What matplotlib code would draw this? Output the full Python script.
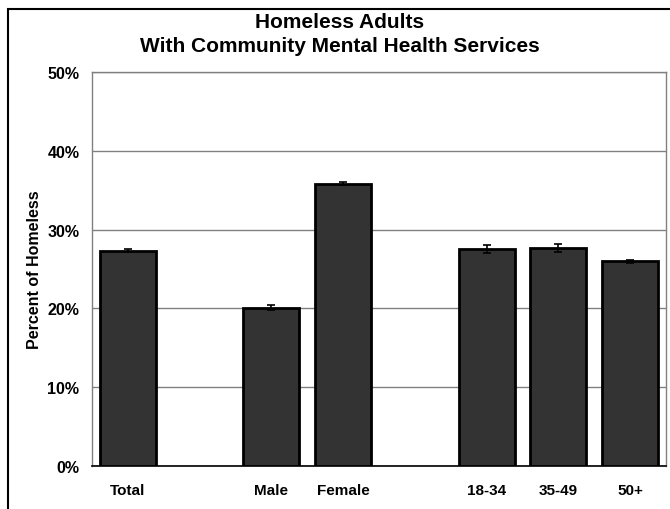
import matplotlib
matplotlib.use("Agg")
import matplotlib.pyplot as plt
from matplotlib.patches import Rectangle

plt.rcParams['font.family'] = ['Liberation Sans', 'DejaVu Sans']

categories = ["Total", "", "Male", "Female", "", "18-34", "35-49", "50+"]
values = [27.3, None, 20.1, 35.8, None, 27.5, 27.7, 26.0]
errors = [0.2, None, 0.35, 0.2, None, 0.5, 0.5, 0.2]
yticks = [0, 10, 20, 30, 40, 50]
ytick_labels = ["0%", "10%", "20%", "30%", "40%", "50%"]

fig = plt.figure(figsize=(6.7, 5.1), dpi=100)
ax = fig.add_axes([92/670, 1 - 467/510, (666-92)/670, (467-73)/510])

xs = [i for i, v in enumerate(values) if v is not None]
vs = [v for v in values if v is not None]
es = [e for e in errors if e is not None]
ax.bar(xs, vs, width=0.78, color="#333333", edgecolor="black", linewidth=2, zorder=3)
ax.errorbar(xs, vs, yerr=es, fmt="none", ecolor="black", elinewidth=1.2,
            capsize=3, capthick=1.2, zorder=4)

ax.set_xlim(-0.5, len(categories) - 0.5)
ax.set_ylim(0, 50)
ax.set_yticks(yticks)
ax.set_yticklabels(ytick_labels, fontsize=11.5, fontweight="bold")
ax.set_xticks(range(len(categories)))
ax.set_xticklabels(categories, fontsize=11, fontweight="bold")
ax.tick_params(axis="both", length=0)
ax.tick_params(axis="x", pad=12)
ax.tick_params(axis="y", pad=9)
ax.yaxis.grid(True, color="#808080", linewidth=1, zorder=0)
for s in ["left", "top", "right"]:
    ax.spines[s].set_color("#808080")
    ax.spines[s].set_linewidth(1)
ax.spines["bottom"].set_color("black")
ax.spines["bottom"].set_linewidth(1.2)

ax.set_ylabel("Percent of Homeless", fontsize=11.5, fontweight="bold", labelpad=4)

fig.text(0.507, 1 - 23/510, "Homeless Adults", ha="center", va="center",
         fontsize=15, fontweight="bold")
fig.text(0.507, 1 - 47/510, "With Community Mental Health Services", ha="center",
         va="center", fontsize=15, fontweight="bold")

fig.patches.append(Rectangle((8/670, -0.05), 1.0, 1 - 10/510 + 0.05,
                             transform=fig.transFigure, fill=False,
                             edgecolor="black", linewidth=1.5))

fig.savefig("out.png", dpi=100)
